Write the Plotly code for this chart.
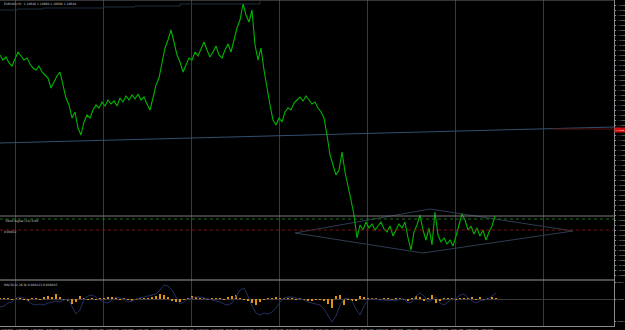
import plotly.graph_objects as go

# ---------------- data ----------------
price_step = 3  # bar index spacing of the sampled closes
close = [
    1.1225, 1.1220, 1.1223, 1.1217, 1.1214, 1.1222, 1.1228, 1.1224, 1.1220, 1.1222,
    1.1216, 1.1212, 1.1210, 1.1214, 1.1208, 1.1205, 1.1202, 1.1192, 1.1198, 1.1204,
    1.1208, 1.1195, 1.1182, 1.1175, 1.1162, 1.1168, 1.1152, 1.1145, 1.1158, 1.1165,
    1.1162, 1.1170, 1.1175, 1.1172, 1.1178, 1.1174, 1.1180, 1.1176, 1.1179, 1.1174,
    1.1182, 1.1178, 1.1184, 1.1180, 1.1185, 1.1181, 1.1186, 1.1180, 1.1183, 1.1176,
    1.1170, 1.1182, 1.1195, 1.1202, 1.1218, 1.1232, 1.1240, 1.1250, 1.1238, 1.1225,
    1.1218, 1.1208, 1.1215, 1.1222, 1.1220, 1.1228, 1.1224, 1.1232, 1.1238, 1.1230,
    1.1223, 1.1228, 1.1234, 1.1225, 1.1222, 1.1230, 1.1236, 1.1228, 1.1240, 1.1252,
    1.1260, 1.1276, 1.1265, 1.1258, 1.1270, 1.1235, 1.1220, 1.1232, 1.1210, 1.1190,
    1.1175, 1.1160, 1.1155, 1.1162, 1.1158, 1.1168, 1.1172, 1.1170, 1.1177, 1.1180,
    1.1183, 1.1179, 1.1184, 1.1180, 1.1176, 1.1178, 1.1172, 1.1168, 1.1162, 1.1145,
    1.1125, 1.1115, 1.1105, 1.1110, 1.1128, 1.1108, 1.1095, 1.1080, 1.1065, 1.1042,
    1.1055, 1.1050, 1.1058, 1.1052, 1.1056, 1.1050, 1.1054, 1.1058, 1.1051, 1.1048,
    1.1054, 1.1044, 1.1050, 1.1056, 1.1052, 1.1058, 1.1042, 1.1030, 1.1048, 1.1055,
    1.1065, 1.1050, 1.1040, 1.1052, 1.1035, 1.1068, 1.1045, 1.1038, 1.1042, 1.1036,
    1.1040, 1.1034, 1.1044, 1.1055, 1.1066, 1.1060, 1.1050, 1.1054, 1.1046, 1.1052,
    1.1044, 1.1050, 1.1040, 1.1048, 1.1054, 1.1064,
]

osc_step = 4
macd_hist = [
    1, 0.5, 1, -0.5, 1, 0.5, -1, -1.5, 0.5, 1,
    -0.5, 1.5, 3, 2, 5, 2, -1, -2, -5, -3,
    3, 1, -1, 0.5, -1, 1, 0.5, 1.5, 2, 0.5,
    -0.5, 0.5, -1, -2, -0.5, 1, 1, 0.5, 2, 3,
    5, 4, 2, -2, -3, -2.5, -1, 1, 3, 1.5,
    0.5, 1, -0.5, 0.5, 1, 0.5, -1, 2, 3, 4,
    1, -0.5, -2, -4, -6, -3, -1, 0.5, 0.5, 1.5,
    1, 0.5, 0.5, 1, -0.5, 0.5, -1, -2, -1.5, -0.5,
    -1, -2, -5, -9, 3, 4, -6, -1, -2, -1.5,
    3, 2, 1, 0.5, 1, -0.5, 0.5, 1, -0.5, 1,
    1, -0.5, -1.5, 1, 3, 2, -2, 1, 4, -4,
    -2, 1, 0.5, 0.5, -0.5, 0.5, 1, 0.5, 2, -1,
    1.5, -0.5, 1, 2, 1,
]
macd_line = [
    -8, -7, -4, -3, 1, 2, 1, -2, -5, -6,
    -5, -6, -4, -3, -2, -3, -1, 0, -7, -15,
    -11, 0, 3, 4, 2, -1, -3, -4, -1, 2,
    1, 0, -3, -2, 0, 1, 2, 3, 4, 5,
    9, 14, 13, 9, 2, -5, -3, 0, 1, 2,
    2, 1, 0, -1, -2, -3, -5, -6, -4, 2,
    9, 11, 3, -7, -14, -16, -14, -15, -13, -9,
    -3, 1, 2, 2, 1, 0, -1, -3, -4, -5,
    -6, -10, -17, -23, -17, -6, 0, 1, -2, -10,
    -16, -7, -1, 0, 0, -1, -1, -2, -1, -2,
    0, 0, -4, -3, 3, 6, 3, -3, -1, 2,
    -4, -6, -3, 0, 0, 4, 5, 1, -2, -4,
    -2, -1, 0, 3, 6,
]

trend_line = {"x": [0, 614], "y": [1.1137, 1.1153]}
ma_line = {"x": [0, 12, 17, 43, 103, 135, 180, 260], "y": [1.1270, 1.1270, 1.1271, 1.1272, 1.1273, 1.1274, 1.1276, 1.1279]}
diamond = {"x": [295, 430, 573, 423, 295], "y": [1.1047, 1.1071, 1.1049, 1.1027, 1.1047]}

time_labels = [
    "6 Feb 2020", "7 Feb 04:00", "7 Feb 20:00", "10 Feb 12:00", "11 Feb 04:00", "11 Feb 20:00",
    "12 Feb 12:00", "13 Feb 04:00", "13 Feb 20:00", "14 Feb 12:00", "17 Feb 04:00", "17 Feb 20:00",
    "18 Feb 12:00", "19 Feb 04:00", "19 Feb 20:00", "20 Feb 12:00", "21 Feb 04:00", "21 Feb 20:00",
    "24 Feb 12:00", "25 Feb 04:00", "25 Feb 20:00", "26 Feb 12:00", "27 Feb 04:00", "27 Feb 20:00",
    "28 Feb 12:00", "2 Mar 04:00", "2 Mar 20:00", "3 Mar 12:00", "4 Mar 04:00", "4 Mar 20:00",
    "5 Mar 12:00", "6 Mar 04:00", "6 Mar 20:00",
]

# ---------------- layout constants ----------------
W, H = 625, 330
ML, MR, MT, MB = 0, 11, 0, 4
PH = H - MT - MB  # plot height in px


def py(px):
    """pixel row inside plot -> paper y"""
    return 1 - px / PH


MAIN_BOTTOM = 280
price_x = [i * price_step for i in range(len(close))]
osc_x = [i * osc_step for i in range(len(macd_line))]

fig = go.Figure()

# drawings on the price chart
fig.add_trace(go.Scatter(x=ma_line["x"], y=ma_line["y"], mode="lines",
                         line=dict(color="#1f2c3d", width=1, shape="hv"), hoverinfo="skip"))
fig.add_trace(go.Scatter(x=trend_line["x"], y=trend_line["y"], mode="lines",
                         line=dict(color="#34506e", width=1), hoverinfo="skip"))
fig.add_trace(go.Scatter(x=diamond["x"], y=diamond["y"], mode="lines",
                         line=dict(color="#2c3c52", width=1), hoverinfo="skip"))

# price
fig.add_trace(go.Scatter(x=price_x, y=close, mode="lines",
                         line=dict(color="#00b400", width=1.1)))

# oscillator
fig.add_trace(go.Bar(x=osc_x, y=macd_hist, yaxis="y2", marker=dict(color="#e0930f", line=dict(width=0)),
                     width=osc_step * 0.55))
fig.add_trace(go.Scatter(x=osc_x, y=macd_line, yaxis="y2", mode="lines",
                         line=dict(color="#22305e", width=1)))

tickfont = dict(size=2.4, color="#b0b0b0", family="Liberation Sans Narrow, Roboto, sans-serif")
xtickfont = dict(size=2.3, color="#b0b0b0", family="Liberation Sans Narrow, Roboto, sans-serif")

price_ticks = [round(1.1005 + 0.0005 * k, 4) for k in range(55)]

fig.update_layout(
    width=W, height=H,
    margin=dict(l=ML, r=MR, t=MT, b=MB),
    paper_bgcolor="#000000", plot_bgcolor="#000000",
    showlegend=False, bargap=0,
    xaxis=dict(range=[0, 614], anchor="y2", showgrid=False, zeroline=False, automargin=False,
               tickangle=0, tickvals=[7 + 15 * k for k in range(len(time_labels))], ticktext=time_labels,
               tickfont=xtickfont, ticks="", ticklabelstandoff=0, showline=True, linecolor="#8a8a8a", linewidth=1,
               minor=dict(tick0=15, dtick=88, showgrid=True, gridcolor="#3a3a3a", gridwidth=1, ticks="")),
    yaxis=dict(domain=[py(MAIN_BOTTOM), 1], range=[1.1280 - MAIN_BOTTOM * 0.0001, 1.1280],
               side="right", showgrid=False, zeroline=False, automargin=False,
               tickvals=price_ticks, ticktext=[f"{v:.5f}" for v in price_ticks],
               tickfont=tickfont, ticks="outside", ticklen=1, tickcolor="#888", ticklabelstandoff=0,
               showline=True, linecolor="#8a8a8a", linewidth=1),
    yaxis2=dict(domain=[0, py(MAIN_BOTTOM)], range=[-(PH - 299), 299 - MAIN_BOTTOM],
                side="right", showgrid=False, zeroline=True, zerolinecolor="#3a3a3a", zerolinewidth=1,
                automargin=False,
                tickvals=[-22, 0, 17], ticktext=["-0.0022", "0.0000", "0.0017"],
                tickfont=tickfont, ticks="outside", ticklen=1, tickcolor="#888", ticklabelstandoff=0,
                showline=True, linecolor="#8a8a8a", linewidth=1),
)

shapes = [
    dict(type="line", xref="paper", yref="paper", x0=0, x1=1, y0=1, y1=1, line=dict(color="#6a6a6a", width=1)),
    dict(type="line", xref="paper", yref="paper", x0=0, x1=1, y0=py(216), y1=py(216), line=dict(color="#7a7a7a", width=1)),
    dict(type="line", xref="paper", yref="paper", x0=0, x1=1, y0=py(219), y1=py(219), line=dict(color="#1f6e1f", width=1, dash="dot")),
    dict(type="line", xref="paper", yref="paper", x0=0, x1=1, y0=py(230), y1=py(230), line=dict(color="#7a1414", width=1, dash="dot")),
    dict(type="line", xref="paper", yref="paper", x0=0, x1=1, y0=py(280), y1=py(280), line=dict(color="#9a9a9a", width=1)),
    dict(type="line", xref="paper", yref="paper", x0=0.9, x1=1, y0=py(129), y1=py(129), line=dict(color="#5a1010", width=1)),
]
fig.update_layout(shapes=shapes)

lab = dict(size=3, color="#c8c8c8", family="DejaVu Sans")
annotations = [
    dict(text="EURUSD,H1  1.10640 1.10660 1.10600 1.10640", x=0.003, y=1, xref="paper", yref="paper",
         xanchor="left", yanchor="top", showarrow=False, font=lab),
    dict(text="Trend Signal (14) 0.00", x=0.003, y=py(216.5), xref="paper", yref="paper",
         xanchor="left", yanchor="top", showarrow=False, font=lab),
    dict(text="0.00012", x=0.003, y=py(227.5), xref="paper", yref="paper",
         xanchor="left", yanchor="top", showarrow=False, font=lab),
    dict(text="MACD(12,26,9) 0.000123 0.000045", x=0.003, y=py(280.5), xref="paper", yref="paper",
         xanchor="left", yanchor="top", showarrow=False, font=lab),
    dict(text="1.11510", x=1.0, y=py(129.5), xref="paper", yref="paper", xanchor="left", yanchor="middle",
         showarrow=False, font=dict(size=2.4, color="#ffffff", family="Liberation Sans Narrow, Roboto, sans-serif"),
         bgcolor="#d01010", borderpad=0.5),
]
fig.update_layout(annotations=annotations)

fig.write_html("out.html")
